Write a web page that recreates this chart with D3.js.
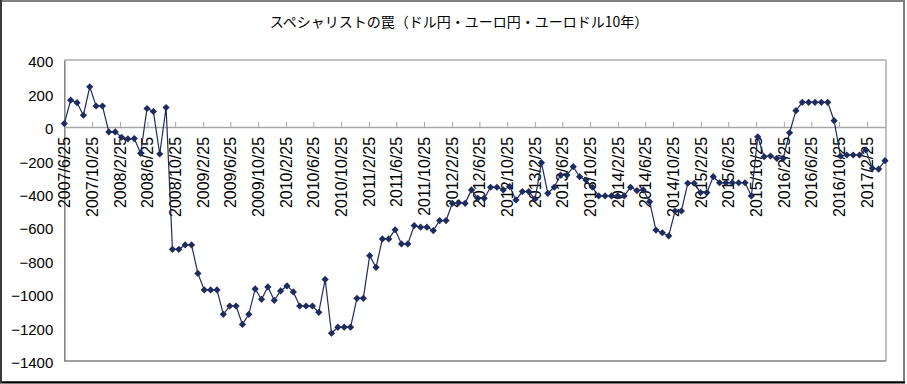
<!DOCTYPE html>
<html>
<head>
<meta charset="utf-8">
<script src="https://cdn.jsdelivr.net/npm/d3@7"></script>
<style>
  body { margin: 0; background: #fff; }
  svg { display: block; }
</style>
</head>
<body>
<svg></svg>
<script>
// chart data
const title = "スペシャリストの罠（ドル円・ユーロ円・ユーロドル10年）";
const startDate = "2007/6/25";
const stepDays = 28; // one point every 4 weeks

const values = [
  20, 160, 145, 70, 240, 125, 125, -30, -30, -62,
  -72, -70, -158, 110, 92, -162, 116, -732, -732, -706,
  -706, -876, -975, -975, -975, -1121, -1071, -1071, -1181, -1121,
  -969, -1031, -957, -1037, -981, -951, -987, -1071, -1071, -1071,
  -1109, -912, -1234, -1198, -1198, -1198, -1025, -1025, -770, -840,
  -670, -670, -615, -700, -700, -590, -600, -600, -620, -560,
  -560, -457, -453, -457, -377, -427, -427, -361, -361, -377,
  -357, -437, -387, -387, -431, -214, -397, -361, -288, -288,
  -238, -298, -318, -361, -413, -413, -413, -413, -413, -361,
  -381, -377, -447, -617, -633, -652, -503, -503, -337, -337,
  -393, -393, -298, -334, -334, -334, -334, -334, -413, -59,
  -178, -174, -188, -188, -35, 97, 147, 147, 147, 147,
  147, 37, -174, -168, -168, -168, -138, -248, -252, -202
];

const tickLabels = [
  "2007/6/25", "2007/10/25", "2008/2/25", "2008/6/25", "2008/10/25",
  "2009/2/25", "2009/6/25", "2009/10/25", "2010/2/25", "2010/6/25",
  "2010/10/25", "2011/2/25", "2011/6/25", "2011/10/25", "2012/2/25",
  "2012/6/25", "2012/10/25", "2013/2/25", "2013/6/25", "2013/10/25",
  "2014/2/25", "2014/6/25", "2014/10/25", "2015/2/25", "2015/6/25",
  "2015/10/25", "2016/2/25", "2016/6/25", "2016/10/25", "2017/2/25"
];

const yTicks = [400, 200, 0, -200, -400, -600, -800, -1000, -1200, -1400];

// layout
const width = 907, height = 384;
const plot = { left: 64.3, right: 885, top: 60, bottom: 361 };
const navy = "#1e2b5e";

const parse = d3.timeParse("%Y/%m/%d");
const start = parse(startDate);
const dates = values.map((v, i) => d3.timeDay.offset(start, stepDays * i));
const tickDates = tickLabels.map(parse);

const svg = d3.select("svg").attr("width", width).attr("height", height);

svg.append("rect").attr("width", width).attr("height", height).attr("fill", "#fff");

// outer frame
svg.append("rect")
  .attr("x", 1).attr("y", 1).attr("width", 903).attr("height", 381)
  .attr("fill", "none").attr("stroke", "#808080").attr("stroke-width", 2);
svg.append("line").attr("x1", 0).attr("x2", 905).attr("y1", 382.5).attr("y2", 382.5)
  .attr("stroke", "#000").attr("stroke-width", 2);
svg.append("line").attr("x1", 1).attr("x2", 1).attr("y1", 0).attr("y2", 383)
  .attr("stroke", "#3a3a3a").attr("stroke-width", 2);

const xScale = d3.scaleTime()
  .domain([dates[0], dates[dates.length - 1]])
  .range([plot.left, plot.right]);

const yScale = d3.scaleLinear()
  .domain([-1400, 400])
  .range([plot.bottom, plot.top]);

// plot area borders
svg.append("line").attr("x1", plot.left).attr("x2", 886).attr("y1", plot.top).attr("y2", plot.top)
  .attr("stroke", "#c0c0c0").attr("stroke-width", 2);
svg.append("line").attr("x1", 886).attr("x2", 886).attr("y1", plot.top).attr("y2", plot.bottom)
  .attr("stroke", "#c0c0c0").attr("stroke-width", 2);
svg.append("line").attr("x1", plot.left).attr("x2", 886).attr("y1", plot.bottom).attr("y2", plot.bottom)
  .attr("stroke", "#808080").attr("stroke-width", 1.5);

// y axis
const yAxis = d3.axisLeft(yScale).tickValues(yTicks).tickFormat(d3.format("d"))
  .tickSize(0).tickPadding(11);
const gy = svg.append("g").attr("transform", `translate(${plot.left},0)`).call(yAxis);
gy.select(".domain").attr("stroke", "#808080").attr("stroke-width", 1.5);
gy.selectAll("text")
  .attr("font-family", "'Liberation Sans', Arial, sans-serif")
  .attr("font-size", 15).attr("fill", "#000").attr("dy", "0.45em");

// x axis on the zero line, ticks pointing up
const xAxis = d3.axisTop(xScale).tickValues(tickDates).tickSize(5).tickSizeOuter(0).tickFormat("");
const gx = svg.append("g").attr("transform", `translate(0,${yScale(0)})`).call(xAxis);
gx.select(".domain").attr("stroke", "#a6a6a6").attr("stroke-width", 1.5);
gx.selectAll(".tick line").attr("stroke", "#a6a6a6");

svg.append("g").selectAll("text")
  .data(tickDates)
  .join("text")
  .attr("transform", d => `translate(${xScale(d)},${yScale(0) + 10}) rotate(-90)`)
  .attr("text-anchor", "end")
  .attr("dy", "0.36em")
  .attr("font-family", "'Liberation Sans', Arial, sans-serif")
  .attr("font-size", 16)
  .attr("fill", "#000")
  .text((d, i) => tickLabels[i]);

// series
const line = d3.line()
  .x((d, i) => xScale(dates[i]))
  .y(d => yScale(d));

svg.append("path")
  .datum(values)
  .attr("fill", "none")
  .attr("stroke", navy)
  .attr("stroke-width", 1.2)
  .attr("d", line);

svg.append("g").selectAll("path")
  .data(values)
  .join("path")
  .attr("transform", (d, i) => `translate(${xScale(dates[i])},${yScale(d)})`)
  .attr("d", "M0,-3.6L3.6,0L0,3.6L-3.6,0Z")
  .attr("fill", navy);

// title
svg.append("text")
  .attr("x", 459).attr("y", 26.5)
  .attr("text-anchor", "middle")
  .attr("font-family", "'Noto Sans CJK JP', sans-serif")
  .attr("font-size", 14)
  .attr("fill", "#000")
  .text(title);
</script>
</body>
</html>
